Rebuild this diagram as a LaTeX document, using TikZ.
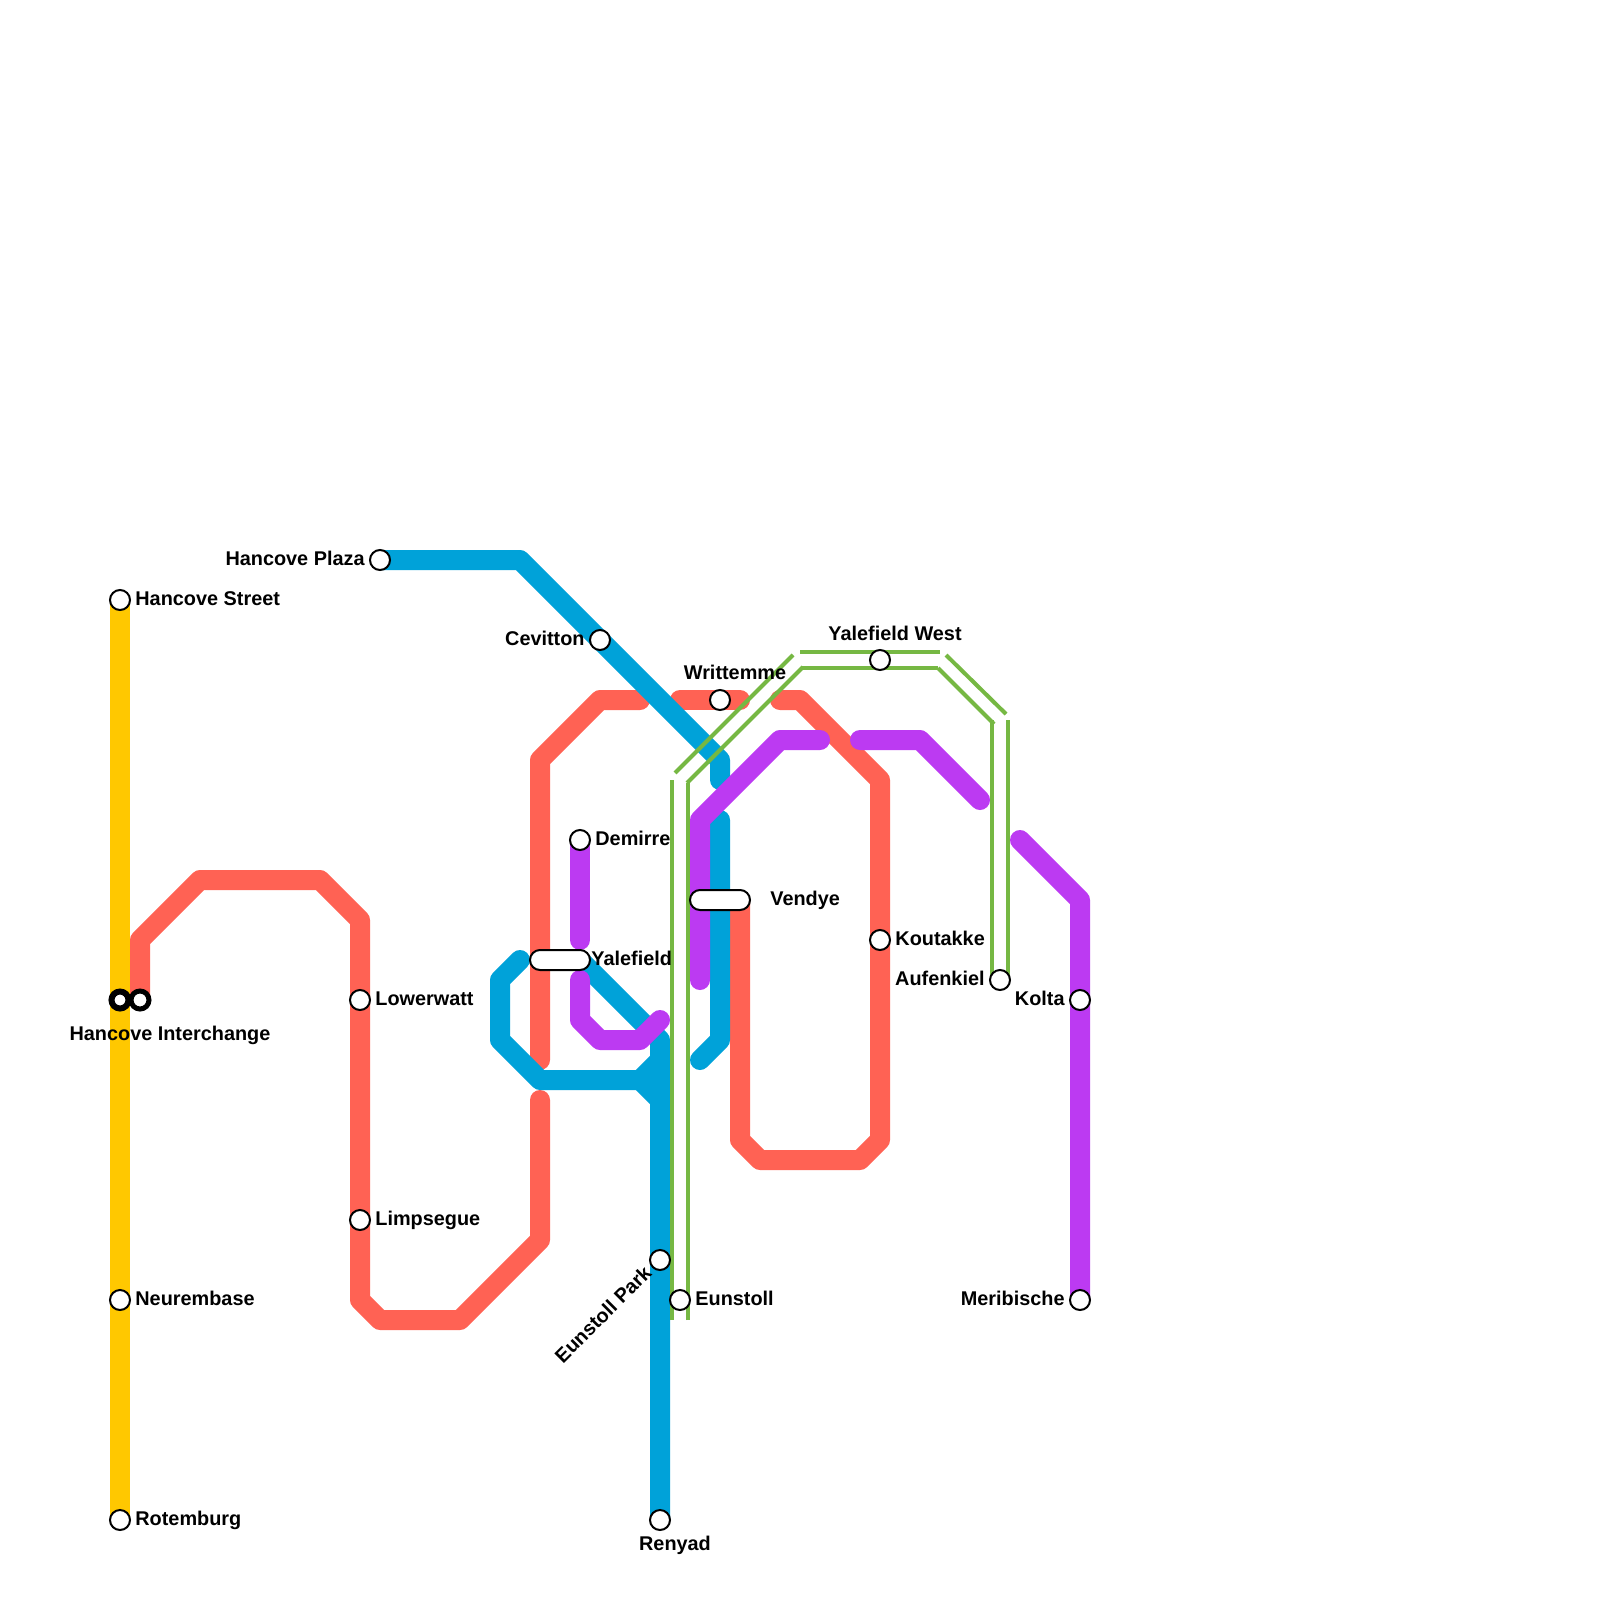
\documentclass[tikz,border=0pt]{standalone}
\usepackage{fontspec}
\setmainfont{Liberation Sans}[BoldFont={Liberation Sans Bold}]
\usetikzlibrary{backgrounds}
\definecolor{lnYellow}{HTML}{FFC800}
\definecolor{lnRed}{HTML}{FF6254}
\definecolor{lnBlue}{HTML}{00A2D9}
\definecolor{lnPurple}{HTML}{BC3AF2}
\definecolor{lnGreen}{HTML}{76B843}
\tikzset{
  metro/.style={line width=10pt,line cap=round,line join=round},
  yellowline/.style={metro,lnYellow,line cap=butt},
  redline/.style={metro,lnRed},
  blueline/.style={metro,lnBlue},
  purpleline/.style={metro,lnPurple},
  greenline/.style={line width=2pt,lnGreen,line cap=butt,line join=miter},
  stn/.style={circle,draw=black,fill=white,line width=1pt,minimum size=10pt,inner sep=0pt},
  hub/.style={circle,draw=black,fill=white,line width=3pt,minimum size=8.5pt,inner sep=0pt},
  capsule/.style={rounded corners=5pt,draw=black,fill=white,line width=1pt,minimum width=30pt,minimum height=10pt,inner sep=0pt},
  lbl/.style={inner sep=0pt,yshift=-0.5pt,font=\fontsize{9.93pt}{11pt}\selectfont\bfseries,text=black},
  lblR/.style={lbl,anchor=mid west},
  lblL/.style={lbl,anchor=mid east},
  lblC/.style={lbl,anchor=mid},
}
\begin{document}
\begin{tikzpicture}[x=0.5pt,y=-0.5pt]
\useasboundingbox (0,0) rectangle (1600,1600);
% stations
\node[stn] (street) at (120,600) {};
\node[stn] (neur) at (120,1300) {};
\node[stn] (rot) at (120,1520) {};
\node[hub] (hubA) at (120,1000) {};
\node[hub,line width=2.5pt,minimum size=9pt] (hubB) at (140,1000) {};
\node[stn] (plaza) at (380,560) {};
\node[stn] (cev) at (600,640) {};
\node[stn] (writ) at (720,700) {};
\node[stn] (west) at (880,660) {};
\node[stn] (dem) at (580,840) {};
\node[stn] (low) at (360,1000) {};
\node[stn] (lim) at (360,1220) {};
\node[stn] (kou) at (880,940) {};
\node[stn] (auf) at (1000,980) {};
\node[stn] (kol) at (1080,1000) {};
\node[stn] (mer) at (1080,1300) {};
\node[stn] (park) at (660,1260) {};
\node[stn] (eun) at (680,1300) {};
\node[stn] (ren) at (660,1520) {};
\node[capsule] (yale) at (560,960) {};
\node[capsule] (vend) at (720,900) {};
% labels
\node[lblR] (tStreet) at (135,599) {Hancove Street};
\node[lblR] (tNeur) at (135,1299) {Neurembase};
\node[lblR] (tRot) at (135,1519) {Rotemburg};
\node[lblC] (tHub) at (170,1034) {Hancove Interchange};
\node[lblL] (tPlaza) at (365,559) {Hancove Plaza};
\node[lblL] (tCev) at (585,639) {Cevitton};
\node[lblC] (tWrit) at (735,673) {Writtemme};
\node[lblC] (tWest) at (895,634) {Yalefield West};
\node[lblR] (tDem) at (595,839) {Demirre};
\node[lblR] (tLow) at (375,999) {Lowerwatt};
\node[lblR] (tLim) at (375,1219) {Limpsegue};
\node[lblR] (tKou) at (895,939) {Koutakke};
\node[lblL] (tAuf) at (985,979) {Aufenkiel};
\node[lblL] (tKol) at (1065,999) {Kolta};
\node[lblL] (tMer) at (1065,1299) {Meribische};
\node[lblC] (tRen) at (675,1544) {Renyad};
\node[lblR] (tEun) at (695,1299) {Eunstoll};
\node[lblR] (tYale) at (591,959) {Yalefield};
\node[lblR] (tVend) at (770,899) {Vendye};
\node[lbl,anchor=mid east,rotate=45,yshift=0.5pt] (tPark) at (650,1270) {Eunstoll Park};
% free ends
\coordinate (rA) at (540,1100);
\coordinate (rB) at (540,1060);
\coordinate (rC) at (640,700);
\coordinate (rD) at (680,700);
\coordinate (rE) at (740,700);
\coordinate (rF) at (780,700);
\coordinate (bA) at (720,780);
\coordinate (bB) at (720,820);
\coordinate (bC) at (700,1060);
\coordinate (bD) at (520,960);
\coordinate (bE) at (640,1080);
\coordinate (pA) at (580,940);
\coordinate (pB) at (580,980);
\coordinate (pC) at (660,1020);
\coordinate (pD) at (700,980);
\coordinate (pE) at (820,740);
\coordinate (pF) at (860,740);
\coordinate (pG) at (980,800);
\coordinate (pH) at (1020,840);
\coordinate (rG) at (740,900);
\begin{scope}[on background layer]
\fill[white] (0,0) rectangle (1600,1600);
\draw[yellowline] (street.center) -- (rot.center);
\draw[redline] (hubB.center) -- (140,940) -- (200,880) -- (320,880) -- (360,920) -- (360,1300) -- (380,1320) -- (460,1320) -- (540,1240) -- (rA);
\draw[redline] (rB) -- (540,760) -- (600,700) -- (rC);
\draw[redline] (rD) -- (rE);
\draw[redline] (rF) -- (800,700) -- (880,780) -- (880,1140) -- (860,1160) -- (760,1160) -- (740,1140) -- (rG);
\draw[blueline] (plaza.center) -- (520,560) -- (720,760) -- (bA);
\draw[blueline] (bB) -- (720,1040) -- (bC);
\draw[blueline] (bD) -- (500,980) -- (500,1040) -- (540,1080) -- (bE) -- (660,1060);
\draw[blueline] (bE) -- (660,1100);
\draw[blueline] (yale.center) -- (580,960) -- (660,1040) -- (ren.center);
\draw[purpleline] (dem.center) -- (pA);
\draw[purpleline] (pB) -- (580,1020) -- (600,1040) -- (640,1040) -- (pC);
\draw[purpleline] (pD) -- (700,820) -- (780,740) -- (pE);
\draw[purpleline] (pF) -- (920,740) -- (pG);
\draw[purpleline] (pH) -- (1080,900) -- (mer.center);
\draw[greenline] (672,1320) -- (672,780);
\draw[greenline] (688,1320) -- (688,783);
\draw[greenline] (675,773) -- (793,655);
\draw[greenline] (687,783) -- (803,667);
\draw[greenline] (800,652) -- (940,652);
\draw[greenline] (802,668) -- (938,668);
\draw[greenline] (946,655) -- (1006,714);
\draw[greenline] (938,668) -- (994,724);
\draw[greenline] (992,720) -- (992,980);
\draw[greenline] (1008,720) -- (1008,980);
\end{scope}
\end{tikzpicture}
\end{document}
